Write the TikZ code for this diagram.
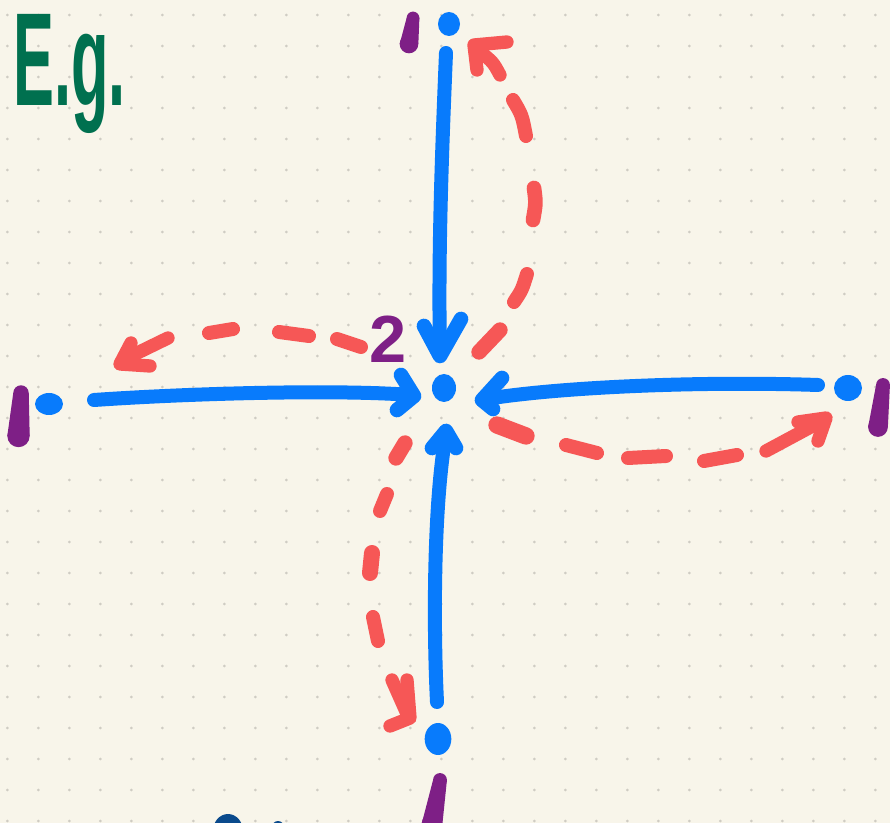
\documentclass[tikz,border=0pt]{standalone}
\usepackage{fontspec}
\setmainfont{Liberation Sans}
\usetikzlibrary{shapes.geometric}
\definecolor{bgcream}{HTML}{F8F5EA}
\definecolor{griddot}{HTML}{CFCCC3}
\definecolor{bblue}{HTML}{087BFC}
\definecolor{rred}{HTML}{F65756}
\definecolor{ppurple}{HTML}{7E1F86}
\definecolor{ggreen}{HTML}{00704F}
\definecolor{dblue}{HTML}{0A4A8C}
% tapered purple stroke: top x,y,r ; bottom x,y,r (pixel units, r in pt)
\newcommand{\taperstroke}[6]{%
  \fill[ppurple] (#1,#2) circle[radius=#3pt];
  \fill[ppurple] (#4,#5) circle[radius=#6pt];
  \fill[ppurple] ([xshift=-#3pt]#1,#2) -- ([xshift=#3pt]#1,#2) -- ([xshift=#6pt]#4,#5) -- ([xshift=-#6pt]#4,#5) -- cycle;
}
\begin{document}
\begin{tikzpicture}[x=0.75pt,y=-0.75pt,
  bdot/.style={ellipse, fill=bblue, inner sep=0pt},
  blueline/.style={draw=bblue, line width=10.5pt, line cap=round, line join=round},
  bluehead/.style={draw=bblue, line width=11pt, line cap=round, line join=round},
  redash/.style={draw=rred, line width=10.5pt, line cap=round},
  redhead/.style={draw=rred, line width=10pt, line cap=round, line join=round}]
\useasboundingbox (0,0) rectangle (890,823);
\clip (0,0) rectangle (890,823);
\fill[bgcream] (0,0) rectangle (890,823);
% grid dots
\foreach \i in {0,...,28}{
  \foreach \j in {0,...,26}{
    \fill[griddot] ({7.3+31*\i},{15+31*\j}) circle[radius=1.1pt];
  }
}
% title
\node[text=ggreen, font=\bfseries\fontsize{92}{92}\selectfont, xscale=0.5, yscale=1.08, anchor=base west, inner sep=0pt] (eg) at (13,106) {E.g.};
% dots
\node[bdot, minimum width=16.5pt, minimum height=18pt] (top) at (449,24) {};
\node[bdot, minimum width=21pt, minimum height=16.5pt] (left) at (49,404) {};
\node[bdot, minimum width=21pt, minimum height=19.5pt] (right) at (848,388) {};
\node[bdot, minimum width=20pt, minimum height=24pt] (bottom) at (438,739) {};
\node[bdot, minimum width=18pt, minimum height=21pt] (center) at (444,388) {};
% labels
\node[text=ppurple, font=\bfseries\fontsize{50}{50}\selectfont, inner sep=0pt] (two) at (388,339) {2};
\taperstroke{413}{18}{4.8}{409}{44}{7.0}
\taperstroke{21}{393}{5.8}{18.5}{436}{8.4}
\taperstroke{883}{385}{5.2}{878}{427}{7.4}
\taperstroke{440}{780}{5.2}{432}{824}{7.8}
% named connector ends
\coordinate (tS) at (446,53);   \coordinate (tE) at (440,354);
\coordinate (lS) at (94,400);   \coordinate (lE) at (412,395);
\coordinate (rS) at (818,385);  \coordinate (rE) at (486,399);
\coordinate (bS) at (437,702);  \coordinate (bE) at (446,434);
% blue arrows (outer -> centre)
\draw[blueline] (tS) .. controls (442,150) and (438,250) .. (tE);
\draw[bluehead] (424,326) -- (440,356) -- (461,319);
\draw[blueline] (lS) .. controls (180,394) and (330,389) .. (lE);
\draw[bluehead] (401,375) -- (414,396) -- (397,410);
\draw[blueline] (rS) .. controls (700,381) and (560,387) .. (rE);
\draw[bluehead] (502,378) -- (482,400) -- (493,409);
\draw[blueline] (bS) .. controls (433,620) and (434,500) .. (bE);
\draw[bluehead] (432,448) -- (446,431) -- (456,448);
% red dashed arrows (centre -> outer)
% up
\draw[redash, line width=11.5pt] (479,352) -- (500,330);
\draw[redash] (514,302) .. controls (522,290) .. (527,274);
\draw[redash, line width=11pt] (534,188) .. controls (536,203) .. (533,220);
\draw[redash] (513,100) .. controls (522,115) .. (526,136);
\draw[redhead] (477,70) -- (474,45) -- (507,42);
\draw[redhead] (479,51) .. controls (493,62) .. (500,75);
% left
\draw[redash] (361,347) -- (337,339);
\draw[redash] (309,336) -- (279,332);
\draw[redash] (233,329) -- (209,333);
\draw[redhead] (131,343) -- (120,364) -- (150,366);
\draw[redhead] (168,338) -- (127,358);
% right
\draw[redash, line width=13pt] (497,425) -- (526,436);
\draw[redash] (566,445) -- (597,453);
\draw[redash] (628,458) -- (666,456);
\draw[redash] (704,461) -- (737,455);
\draw[redhead] (766,451) -- (820,422);
\draw[redhead] (798,422) -- (826,418) -- (818,441);
% down
\draw[redash, line width=11.5pt] (405,443) -- (396,458);
\draw[redash] (387,494) -- (380,511);
\draw[redash, line width=12pt] (372,553) -- (370,573);
\draw[redash] (373,617) -- (378,641);
\draw[redhead] (407,680) -- (410,718) -- (390,726);
\draw[redhead] (392,680) -- (408,716);
% partial shapes at bottom edge
\fill[dblue] (228,832) ellipse [x radius=11.5pt, y radius=13.5pt];
\fill[dblue] (278,827) circle [radius=4.5pt];
\end{tikzpicture}
\end{document}
